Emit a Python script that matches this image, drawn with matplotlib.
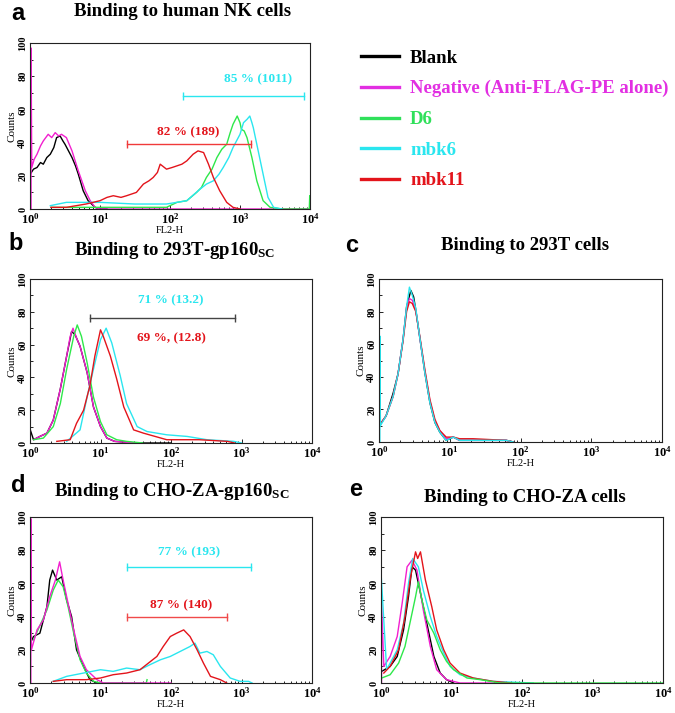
import matplotlib
matplotlib.use("Agg")
import matplotlib.pyplot as plt
import numpy as np
from matplotlib.lines import Line2D
from matplotlib.ticker import MultipleLocator, LogLocator, NullFormatter

plt.rcParams['font.family'] = ['Liberation Serif', 'DejaVu Serif']
plt.rcParams['font.weight'] = 'bold'
plt.rcParams['mathtext.fontset'] = 'custom'
plt.rcParams['mathtext.rm'] = 'Liberation Serif:bold'
plt.rcParams['mathtext.bf'] = 'Liberation Serif:bold'
plt.rcParams['mathtext.it'] = 'Liberation Serif:bold'

# colours
BLACK, MAGENTA, GREEN, CYAN, RED = '#000000', '#f21fcf', '#2ee84a', '#2ae6ef', '#e3141b'

series_names = ['Blank', 'Negative (Anti-FLAG-PE alone)', 'D6', 'mbk6', 'mbk11']
xtick_vals = [1, 10, 100, 1000, 10000]
xtick_labels = [r'$10^0$', r'$10^1$', r'$10^2$', r'$10^3$', r'$10^4$']
ytick_vals = [0, 20, 40, 60, 80, 100]

# histogram outlines: (log10 FL2-H, counts)
panel_a = {
    'black': ([0.004, 0.05, 0.1, 0.15, 0.19, 0.24, 0.29, 0.34, 0.38, 0.43, 0.47, 0.5, 0.55, 0.6, 0.65, 0.69, 0.76, 0.83, 0.93, 1.0, 1.1],
              [21, 24, 25, 28, 27, 31, 33, 37, 43, 44, 41, 39, 35, 31, 26, 21, 11, 5, 1, 0, 0]),
    'magenta': ([0.015, 0.015, 0.025, 0.06, 0.1, 0.15, 0.19, 0.26, 0.31, 0.36, 0.41, 0.45, 0.52, 0.6, 0.69, 0.79, 0.86, 0.93, 1.0, 2.0, 4.0],
                [0, 97, 25, 30, 33, 38, 41, 45, 43, 46, 44, 45, 43, 35, 23, 11, 5, 1, 0, 0, 0]),
    'green': ([0.3, 1.0, 1.5, 1.95, 2.1, 2.24, 2.38, 2.45, 2.52, 2.6, 2.67, 2.74, 2.81, 2.86, 2.9, 2.96, 3.0, 3.02, 3.06, 3.1, 3.17, 3.24, 3.33, 3.43, 3.6, 3.99, 3.996],
              [1, 1, 1, 1, 4, 5, 10, 13, 19, 24, 31, 36, 39, 46, 51, 56, 52, 48, 47, 43, 31, 17, 5, 1, 0, 0, 8]),
    'cyan': ([0.29, 0.52, 1.0, 1.5, 1.95, 2.24, 2.43, 2.52, 2.62, 2.7, 2.76, 2.84, 2.9, 3.0, 3.05, 3.1, 3.14, 3.17, 3.19, 3.26, 3.33, 3.4, 3.48, 3.6],
             [2, 4, 4, 3, 3, 5, 12, 15, 17, 21, 25, 31, 37, 45, 52, 54, 56, 52, 49, 35, 21, 7, 1, 0]),
    'red': ([0.3, 0.52, 0.8, 1.0, 1.1, 1.19, 1.3, 1.38, 1.52, 1.62, 1.7, 1.76, 1.82, 1.86, 1.95, 2.03, 2.1, 2.17, 2.24, 2.33, 2.4, 2.48, 2.55, 2.62, 2.71, 2.81, 2.9, 3.0],
            [1, 1, 3, 5, 7, 8, 7, 8, 10, 15, 17, 19, 22, 27, 24, 25, 26, 27, 29, 33, 35, 34, 27, 19, 11, 4, 1, 0]),
}
panel_b = {
    'black': ([0.004, 0.05, 0.14, 0.24, 0.33, 0.43, 0.52, 0.59, 0.64, 0.71, 0.81, 0.9, 1.0, 1.09, 1.2, 1.5, 2.0],
              [8, 2, 4, 6, 14, 33, 53, 68, 66, 59, 43, 22, 10, 3, 1, 0, 0]),
    'magenta': ([0.05, 0.14, 0.24, 0.33, 0.43, 0.52, 0.57, 0.61, 0.66, 0.71, 0.81, 0.9, 1.0, 1.09, 1.2, 1.5],
                [2, 4, 6, 14, 33, 53, 65, 70, 64, 59, 43, 22, 10, 3, 1, 0]),
    'green': ([0.05, 0.19, 0.33, 0.43, 0.52, 0.62, 0.67, 0.73, 0.81, 0.9, 1.0, 1.09, 1.23, 1.37, 1.6],
              [2, 3, 10, 24, 45, 65, 72, 65, 49, 28, 13, 5, 2, 1, 0]),
    'cyan': ([0.52, 0.71, 0.81, 0.9, 1.0, 1.08, 1.16, 1.28, 1.37, 1.52, 1.66, 1.94, 2.23, 2.51, 2.89, 3.0],
             [1, 8, 28, 45, 63, 70, 61, 41, 24, 10, 7, 5, 4, 2, 1, 0]),
    'red': ([0.38, 0.57, 0.66, 0.76, 0.85, 0.92, 1.0, 1.04, 1.14, 1.23, 1.33, 1.47, 1.61, 1.94, 2.4, 2.8, 2.9],
            [1, 2, 12, 20, 35, 53, 69, 65, 53, 39, 22, 8, 6, 2, 2, 1, 0]),
}
panel_c = {
    'black': ([0.004, 0.1, 0.2, 0.27, 0.34, 0.39, 0.45, 0.49, 0.52, 0.58, 0.65, 0.72, 0.79, 0.86, 0.95, 1.05, 1.14, 1.33, 1.8, 1.9],
              [10, 16, 30, 42, 63, 83, 93, 89, 81, 63, 42, 24, 12, 6, 1, 3, 1, 1, 1, 0]),
    'magenta': ([0.004, 0.1, 0.2, 0.27, 0.34, 0.39, 0.43, 0.47, 0.52, 0.58, 0.65, 0.72, 0.79, 0.86, 0.95, 1.05, 1.14, 1.33, 1.8, 1.9],
                [10, 16, 28, 42, 63, 82, 88, 87, 81, 63, 43, 25, 13, 7, 2, 3, 1, 1, 1, 0]),
    'red': ([0.004, 0.1, 0.2, 0.27, 0.34, 0.39, 0.43, 0.47, 0.52, 0.58, 0.65, 0.72, 0.79, 0.86, 0.95, 1.05, 1.14, 1.33, 1.8, 1.9],
            [10, 16, 28, 42, 62, 80, 86, 85, 80, 64, 44, 26, 14, 7, 3, 3, 2, 2, 1, 0]),
    'cyan': ([0.012, 0.012, 0.02, 0.1, 0.2, 0.27, 0.34, 0.39, 0.43, 0.47, 0.52, 0.58, 0.65, 0.72, 0.79, 0.86, 0.95, 1.05, 1.14, 1.33, 1.8, 1.9],
             [0, 65, 10, 16, 28, 42, 63, 83, 95, 90, 82, 63, 42, 24, 12, 6, 1, 3, 1, 1, 1, 0]),
}
panel_d = {
    'black': ([0.004, 0.05, 0.14, 0.24, 0.28, 0.32, 0.38, 0.45, 0.52, 0.59, 0.66, 0.76, 0.85, 0.95],
              [24, 28, 30, 46, 62, 68, 62, 64, 50, 40, 20, 10, 2, 0]),
    'green': ([0.05, 0.24, 0.33, 0.4, 0.47, 0.54, 0.62, 0.71, 0.8, 0.9, 1.0, 1.65, 1.66],
              [26, 44, 56, 62, 58, 46, 30, 14, 6, 1, 0, 0, 2]),
    'magenta': ([0.012, 0.012, 0.02, 0.1, 0.19, 0.28, 0.36, 0.42, 0.47, 0.54, 0.62, 0.71, 0.8, 0.95, 1.04, 2.0],
                [0, 99, 20, 32, 38, 52, 62, 73, 62, 48, 32, 16, 8, 2, 0, 0]),
    'cyan': ([0.33, 0.52, 0.76, 1.0, 1.18, 1.37, 1.56, 1.7, 1.85, 1.99, 2.13, 2.27, 2.34, 2.41, 2.51, 2.6, 2.7, 2.84, 2.98, 3.1, 3.15],
             [1, 4, 6, 8, 7, 9, 8, 11, 14, 16, 19, 22, 24, 18, 19, 17, 10, 3, 1, 1, 0]),
    'red': ([0.33, 0.52, 0.8, 1.0, 1.18, 1.37, 1.56, 1.68, 1.8, 1.89, 1.99, 2.08, 2.18, 2.27, 2.37, 2.46, 2.56, 2.7, 2.79],
            [1, 2, 2, 3, 5, 6, 8, 12, 16, 22, 28, 30, 32, 28, 20, 12, 4, 2, 0]),
}
panel_e = {
    'black': ([0.01, 0.13, 0.23, 0.32, 0.39, 0.44, 0.49, 0.56, 0.65, 0.75, 0.84, 0.93, 1.03],
              [7, 10, 16, 32, 52, 70, 68, 54, 36, 16, 6, 2, 0]),
    'magenta': ([0.008, 0.008, 0.04, 0.13, 0.23, 0.3, 0.37, 0.44, 0.51, 0.6, 0.7, 0.79, 0.93, 1.12, 1.6, 2.1],
                [0, 48, 10, 16, 28, 48, 70, 74, 68, 44, 22, 8, 2, 0, 0, 0]),
    'cyan': ([0.004, 0.004, 0.08, 0.23, 0.32, 0.39, 0.45, 0.53, 0.6, 0.7, 0.79, 0.89, 0.98, 1.12, 1.31, 1.59, 2.16],
             [0, 64, 8, 20, 36, 60, 75, 70, 56, 40, 28, 18, 10, 5, 3, 1, 0]),
    'red': ([0.04, 0.13, 0.25, 0.34, 0.42, 0.49, 0.52, 0.56, 0.63, 0.72, 0.79, 0.89, 0.98, 1.12, 1.31, 1.59, 1.85],
            [6, 10, 20, 40, 64, 79, 75, 79, 62, 46, 32, 20, 12, 6, 3, 1, 0]),
    'green': ([0.01, 0.13, 0.25, 0.34, 0.42, 0.49, 0.53, 0.58, 0.65, 0.75, 0.84, 0.93, 1.03, 1.22, 1.41, 1.69, 4.0],
              [3, 5, 12, 22, 38, 52, 61, 50, 38, 30, 20, 13, 8, 3, 2, 0, 0]),
}

# gate bars: (start, end in log10 FL2-H, height in counts)
gates_a = [(2.18, 3.92, 68), (1.38, 3.15, 39)]
gates_b = [(0.85, 2.91, 76)]
gates_d = [(1.37, 3.13, 70), (1.37, 2.8, 40)]
# gate texts: (label, centre log10 x, counts)
notes_a = [('85 % (1011)', 3.26, 78), ('82 % (189)', 2.26, 46)]
notes_b = [('71 % (13.2)', 2.0, 87), ('69 %, (12.8)', 2.01, 64)]
notes_d = [('77 % (193)', 2.25, 79), ('87 % (140)', 2.15, 47)]

colour_of = {'black': BLACK, 'magenta': MAGENTA, 'green': GREEN, 'cyan': CYAN, 'red': RED}

W, H = 675, 713
fig = plt.figure(figsize=(W / 100, H / 100), dpi=100)


def add_axes(left, right, top, bottom):
    return fig.add_axes([left / W, 1 - bottom / H, (right - left) / W, (bottom - top) / H])


def style(ax):
    ax.set_xscale('log')
    ax.set_xlim(1, 10000)
    ax.set_ylim(0, 100)
    ax.set_xticks(xtick_vals)
    ax.set_xticklabels(xtick_labels, fontsize=9)
    ax.xaxis.set_minor_locator(LogLocator(base=10, subs=np.arange(2, 10)))
    ax.xaxis.set_minor_formatter(NullFormatter())
    ax.set_yticks(ytick_vals)
    ax.set_yticklabels([str(v) for v in ytick_vals], fontsize=7.5, rotation=90, va='center')
    ax.yaxis.set_minor_locator(MultipleLocator(10))
    ax.tick_params(which='both', direction='in', width=0.6)
    ax.tick_params(which='major', length=3, pad=2)
    ax.tick_params(which='minor', length=1.8)
    for s in ax.spines.values():
        s.set_linewidth(0.8)
        s.set_color('#222222')
    ax.set_xlabel('FL2-H', fontsize=7.5, labelpad=0)
    ax.set_ylabel('Counts', fontsize=8, labelpad=1)


def draw(ax, curves):
    for key, (lx, n) in curves.items():
        ax.plot(10 ** np.array(lx), n, color=colour_of[key], lw=1.0)


def gate(ax, gates, colours):
    for (x1, x2, y), c in zip(gates, colours):
        ax.plot([10 ** x1, 10 ** x2], [y, y], color=c, lw=1.0)
        ax.plot([10 ** x1, 10 ** x2], [y, y], ls='none', marker='|', ms=6, mew=1.0, color=c)


def notes(ax, items, colours):
    for (t, lx, y), c in zip(items, colours):
        ax.text(10 ** lx, y, t, color=c, fontsize=9.5, ha='center', va='center')


ax_a = add_axes(30, 310, 43, 209)
ax_b = add_axes(30, 312, 279, 443)
ax_c = add_axes(379, 662, 279, 442)
ax_d = add_axes(30, 312, 517, 683)
ax_e = add_axes(381, 663, 517, 683)

for ax, cur in [(ax_a, panel_a), (ax_b, panel_b), (ax_c, panel_c), (ax_d, panel_d), (ax_e, panel_e)]:
    style(ax)
    draw(ax, cur)

gate(ax_a, gates_a, [CYAN, '#f03a3a'])
notes(ax_a, notes_a, [CYAN, RED])
gate(ax_b, gates_b, ['#444444'])
notes(ax_b, notes_b, [CYAN, RED])
gate(ax_d, gates_d, [CYAN, '#f04a4a'])
notes(ax_d, notes_d, [CYAN, RED])

# titles and panel letters
title_kw = dict(fontsize=13.5, ha='center', va='center')
fig.text(183 / W, 1 - 12 / H, 'Binding to human NK cells', **title_kw)
fig.text(175 / W, 1 - 250 / H, r'Binding to 293T-gp160$_{\mathbf{SC}}$', **title_kw)
fig.text(525 / W, 1 - 245 / H, 'Binding to 293T cells', **title_kw)
fig.text(172 / W, 1 - 492 / H, r'Binding to CHO-ZA-gp160$_{\mathbf{SC}}$', **title_kw)
fig.text(525 / W, 1 - 497 / H, 'Binding to CHO-ZA cells', **title_kw)

letter_kw = dict(fontsize=17, fontweight='bold', family='Liberation Sans', ha='center', va='center')
for lx, ly, l in [(18, 13, 'a'), (16, 244, 'b'), (352, 245, 'c'), (18, 485, 'd'), (356, 490, 'e')]:
    fig.text(lx / W, 1 - ly / H, l, **letter_kw)

# legend
legend_text_cols = [BLACK, '#e22fe2', '#2fe05a', CYAN, RED]
handles = [Line2D([0], [0], color=c, lw=2.4) for c in legend_text_cols]
fig.legend(handles, series_names, loc='upper left', bbox_to_anchor=(353 / W, 1 - 42 / H),
           frameon=False, labelcolor=legend_text_cols, prop={'size': 13.5, 'weight': 'bold'},
           handlelength=2.05, handletextpad=0.6, labelspacing=0.72, borderaxespad=0)

fig.savefig('out.png', dpi=100)
